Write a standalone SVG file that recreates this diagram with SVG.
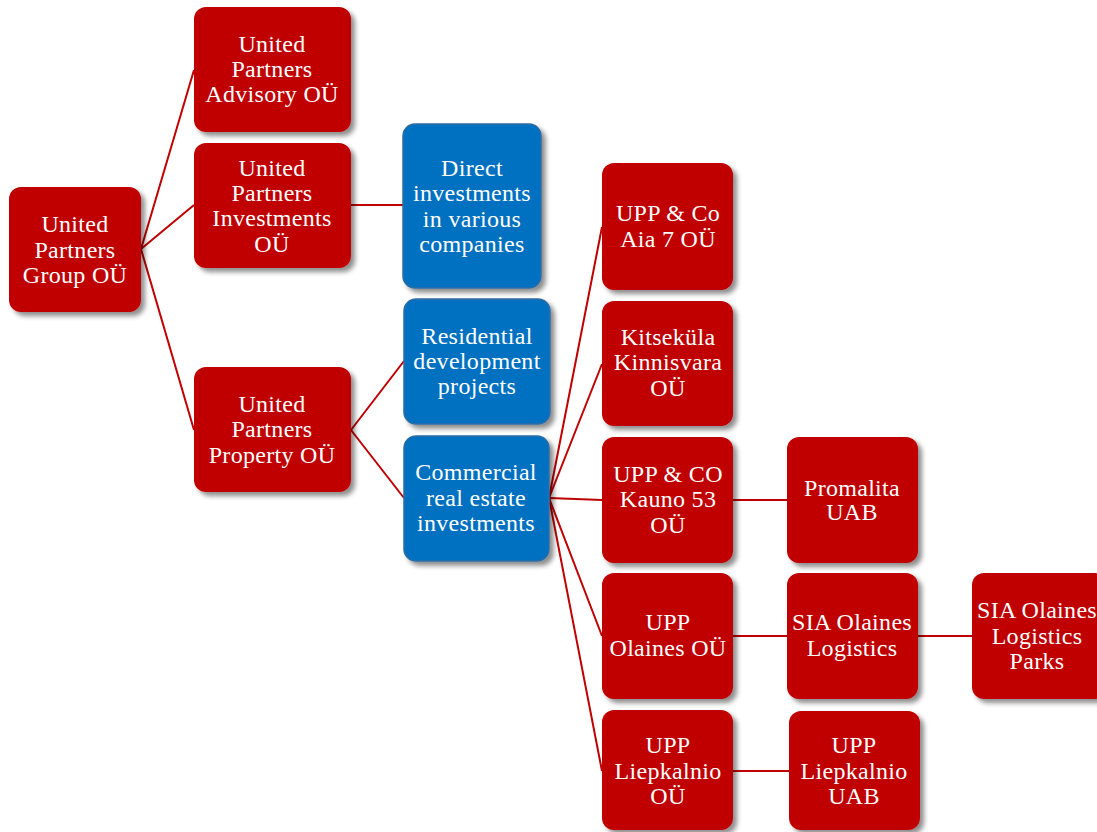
<svg xmlns="http://www.w3.org/2000/svg" width="1097" height="832" viewBox="0 0 1097 832">
<defs>
<filter id="sh" x="-20%" y="-20%" width="150%" height="150%">
<feGaussianBlur in="SourceAlpha" stdDeviation="2.5"/>
<feOffset dx="4" dy="4" result="b"/>
<feComponentTransfer><feFuncA type="linear" slope="0.45"/></feComponentTransfer>
<feMerge><feMergeNode/><feMergeNode in="SourceGraphic"/></feMerge>
</filter>
</defs>
<style>
.r{fill:#C00000;filter:url(#sh)}
.b{fill:#0070C0;stroke:#2E6DA4;stroke-width:1.5;filter:url(#sh)}
text{font-family:"Liberation Serif","Times New Roman",serif;font-size:24px;letter-spacing:0.3px;fill:#fff;text-anchor:middle}
.c line{stroke:#C00000;stroke-width:2}
</style>
<rect width="1097" height="832" fill="#fff"/>
<g class="c" id="connectors">
<line x1="141" y1="249" x2="194" y2="70"/>
<line x1="141" y1="249" x2="194" y2="205"/>
<line x1="141" y1="249" x2="194" y2="430"/>
<line x1="351" y1="205" x2="403" y2="205"/>
<line x1="351" y1="430" x2="404" y2="361"/>
<line x1="351" y1="430" x2="404" y2="498"/>
<line x1="549" y1="498" x2="602" y2="227"/>
<line x1="549" y1="498" x2="602" y2="364"/>
<line x1="549" y1="498" x2="602" y2="500"/>
<line x1="549" y1="498" x2="602" y2="636"/>
<line x1="549" y1="498" x2="602" y2="771"/>
<line x1="733" y1="500" x2="787" y2="500"/>
<line x1="733" y1="636" x2="787" y2="636"/>
<line x1="918" y1="636" x2="972" y2="636"/>
<line x1="733" y1="771" x2="789" y2="771"/>
</g>
<g id="group"><rect class="r" x="9" y="187" width="132" height="125" rx="12"/>
<text x="75" y="232">United</text><text x="75" y="258">Partners</text><text x="75" y="283">Group OÜ</text></g>
<g id="advisory"><rect class="r" x="194" y="7" width="157" height="125" rx="12"/>
<text x="272" y="52">United</text><text x="272" y="77">Partners</text><text x="272" y="102">Advisory OÜ</text></g>
<g id="investments"><rect class="r" x="194" y="143" width="157" height="125" rx="12"/>
<text x="272" y="176">United</text><text x="272" y="201">Partners</text><text x="272" y="226">Investments</text><text x="272" y="252">OÜ</text></g>
<g id="property"><rect class="r" x="194" y="367" width="157" height="125" rx="12"/>
<text x="272" y="412">United</text><text x="272" y="437">Partners</text><text x="272" y="463">Property OÜ</text></g>
<g id="direct"><rect class="b" x="403" y="124" width="138" height="164" rx="12"/>
<text x="472" y="176">Direct</text><text x="472" y="201">investments</text><text x="472" y="227">in various</text><text x="472" y="252">companies</text></g>
<g id="residential"><rect class="b" x="404" y="299" width="146" height="125" rx="12"/>
<text x="477" y="344">Residential</text><text x="477" y="369">development</text><text x="477" y="394">projects</text></g>
<g id="commercial"><rect class="b" x="404" y="436" width="145" height="125" rx="12"/>
<text x="476" y="480">Commercial</text><text x="476" y="506">real estate</text><text x="476" y="531">investments</text></g>
<g id="aia"><rect class="r" x="602" y="163" width="131" height="127" rx="12"/>
<text x="668" y="221">UPP &amp; Co</text><text x="668" y="247">Aia 7 OÜ</text></g>
<g id="kitsekula"><rect class="r" x="602" y="301" width="131" height="125" rx="12"/>
<text x="668" y="345">Kitseküla</text><text x="668" y="370">Kinnisvara</text><text x="668" y="396">OÜ</text></g>
<g id="kauno"><rect class="r" x="602" y="437" width="131" height="126" rx="12"/>
<text x="668" y="482">UPP &amp; CO</text><text x="668" y="507">Kauno 53</text><text x="668" y="533">OÜ</text></g>
<g id="promalita"><rect class="r" x="787" y="437" width="131" height="126" rx="12"/>
<text x="852" y="496">Promalita</text><text x="852" y="520">UAB</text></g>
<g id="olaines"><rect class="r" x="602" y="573" width="131" height="126" rx="12"/>
<text x="668" y="630">UPP</text><text x="668" y="656">Olaines OÜ</text></g>
<g id="sia-logistics"><rect class="r" x="787" y="573" width="131" height="126" rx="12"/>
<text x="852" y="630">SIA Olaines</text><text x="852" y="656">Logistics</text></g>
<g id="sia-parks"><rect class="r" x="972" y="573" width="135" height="126" rx="12"/>
<text x="1037" y="618">SIA Olaines</text><text x="1037" y="644">Logistics</text><text x="1037" y="669">Parks</text></g>
<g id="liepkalnio-ou"><rect class="r" x="602" y="710" width="131" height="120" rx="12"/>
<text x="668" y="753">UPP</text><text x="668" y="779">Liepkalnio</text><text x="668" y="804">OÜ</text></g>
<g id="liepkalnio-uab"><rect class="r" x="789" y="711" width="131" height="119" rx="12"/>
<text x="854" y="753">UPP</text><text x="854" y="779">Liepkalnio</text><text x="854" y="804">UAB</text></g>
</svg>
